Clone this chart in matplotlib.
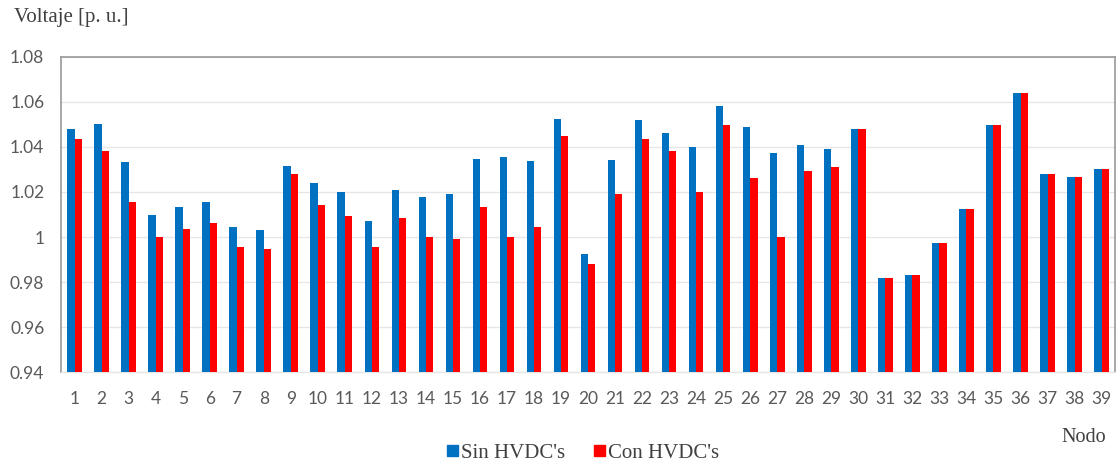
import numpy as np
import matplotlib.pyplot as plt
from matplotlib.patches import Patch

# voltage per node, without / with HVDC links
nodos = [str(n) for n in range(1, 40)]
sin_hvdc = [1.048, 1.050, 1.0335, 1.0097, 1.0133, 1.0157, 1.0043, 1.0032, 1.0314, 1.0238,
            1.0200, 1.0072, 1.0209, 1.0177, 1.0192, 1.0347, 1.0357, 1.0336, 1.0526, 0.9924,
            1.0341, 1.0518, 1.0462, 1.0400, 1.0580, 1.0489, 1.0372, 1.0408, 1.0391, 1.0479,
            0.9819, 0.9832, 0.9975, 1.0124, 1.0497, 1.0638, 1.0280, 1.0266, 1.0301]
con_hvdc = [1.0437, 1.0384, 1.0157, 1.0000, 1.0034, 1.0061, 0.9957, 0.9948, 1.0280, 1.0140,
            1.0094, 0.9957, 1.0085, 1.0000, 0.9989, 1.0133, 1.0000, 1.0043, 1.0451, 0.9880,
            1.0192, 1.0437, 1.0381, 1.0202, 1.0498, 1.0260, 1.0000, 1.0292, 1.0311, 1.0479,
            0.9819, 0.9832, 0.9975, 1.0124, 1.0497, 1.0638, 1.0280, 1.0266, 1.0301]
yticks = [0.94, 0.96, 0.98, 1.00, 1.02, 1.04, 1.06, 1.08]
yticklabels = ['0.94', '0.96', '0.98', '1', '1.02', '1.04', '1.06', '1.08']

azul = '#0070c0'
rojo = '#ff0000'
gris = '#595959'

fig = plt.figure(figsize=(11.17, 4.66), dpi=100)
ax = fig.add_axes([0.0546, 0.2017, 0.9437, 0.676])

x = np.arange(len(nodos))
w = 0.27
base = 0.94
ax.bar(x - w / 2, np.array(sin_hvdc) - base, w, bottom=base, color=azul, zorder=3)
ax.bar(x + w / 2, np.array(con_hvdc) - base, w, bottom=base, color=rojo, zorder=3)

ax.set_xlim(-0.5, len(nodos) - 0.5)
ax.set_ylim(0.94, 1.08)
ax.set_yticks(yticks)
ax.set_yticklabels(yticklabels)
ax.set_xticks(x)
ax.set_xticklabels(nodos)
ax.grid(axis='y', color='#e6e6e6', linewidth=1.0, zorder=0)
ax.tick_params(length=0)
ax.tick_params(axis='y', pad=12, labelsize=12.5, labelcolor=gris)
ax.tick_params(axis='x', pad=14, labelsize=12.5, labelcolor=gris)
for lab in ax.get_xticklabels() + ax.get_yticklabels():
    lab.set_family('Lato')

for s in ['left', 'top', 'right']:
    ax.spines[s].set_color('#a0a0a0')
    ax.spines[s].set_linewidth(1.3)
ax.spines['bottom'].set_color('#e6e6e6')
ax.spines['bottom'].set_linewidth(1.0)

fig.text(0.0125, 0.962, 'Voltaje [p. u.]', family='Liberation Serif', fontsize=15,
         color='#404040', va='center', ha='left')
fig.text(0.99, 0.062, 'Nodo', family='Liberation Serif', fontsize=14.5,
         color='#404040', va='center', ha='right')

handles = [Patch(color=azul, label="Sin HVDC's"), Patch(color=rojo, label="Con HVDC's")]
fig.legend(handles=handles, loc='center', bbox_to_anchor=(0.522, 0.027), ncol=2,
           frameon=False, prop={'family': 'Liberation Serif', 'size': 15},
           handlelength=0.5, handleheight=0.5, handletextpad=0.15, columnspacing=1.4,
           labelcolor='#404040')

fig.savefig('out.png', dpi=100)
